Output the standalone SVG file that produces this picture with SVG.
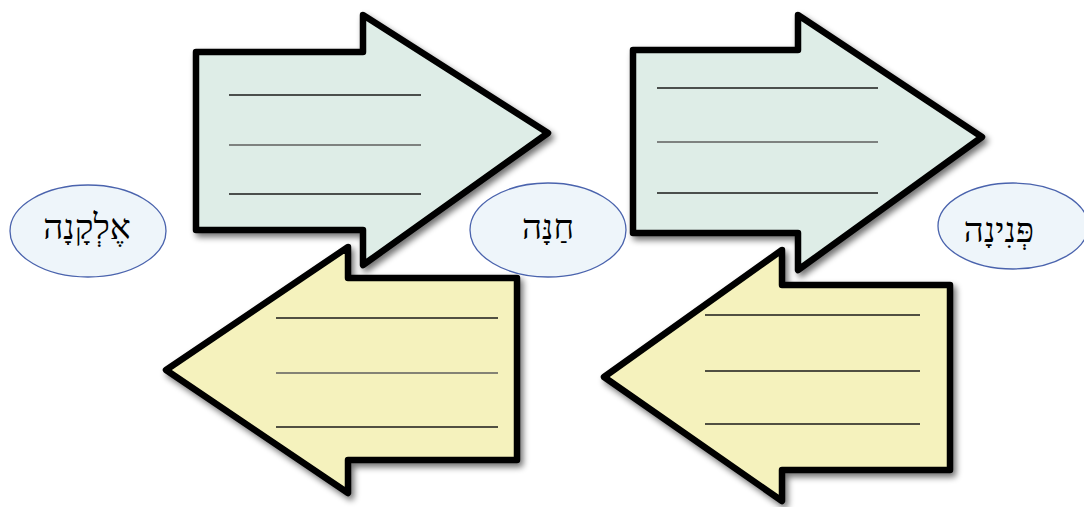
<svg xmlns="http://www.w3.org/2000/svg" width="1084" height="507" viewBox="0 0 1084 507">
<defs>
<filter id="sh" x="-10%" y="-10%" width="125%" height="125%">
<feGaussianBlur in="SourceAlpha" stdDeviation="3"/>
<feOffset dx="3" dy="4" result="b"/>
<feComponentTransfer><feFuncA type="linear" slope="0.55"/></feComponentTransfer>
<feMerge><feMergeNode/><feMergeNode in="SourceGraphic"/></feMerge>
</filter>
</defs>
<style>
.arr{stroke:#000;stroke-width:6.5;stroke-linejoin:round;filter:url(#sh)}
.g{fill:#deede7}
.y{fill:#f5f2bd}
.ln{stroke:#1a1a1a;stroke-width:1.3}
.lm{stroke:#5e5e5e;stroke-width:1.6}
.ell{fill:#eef5fa;stroke:#4a63ad;stroke-width:1.3}
.lbl{font-family:"Liberation Serif","DejaVu Serif",serif;font-size:35px;fill:#000;text-anchor:middle}
</style>
<rect width="1084" height="507" fill="#fff"/>
<g id="arrow-bottom-left">
<path class="arr y" d="M517,278 L348,278 L348,247 L166,370 L348,493 L348,460 L517,460 Z"/>
<line class="ln" x1="276" y1="318" x2="498" y2="318"/>
<line class="lm" x1="276" y1="373" x2="498" y2="373"/>
<line class="ln" x1="276" y1="427" x2="498" y2="427"/>
</g>
<g id="arrow-bottom-right">
<path class="arr y" d="M950,285 L782,285 L782,250 L604,377 L782,501 L782,470 L950,470 Z"/>
<line class="ln" x1="705" y1="315" x2="920" y2="315"/>
<line class="ln" x1="705" y1="371" x2="920" y2="371"/>
<line class="ln" x1="705" y1="424" x2="920" y2="424"/>
</g>
<g id="arrow-top-left">
<path class="arr g" d="M196,52 L363,52 L363,15 L548,133 L363,265 L363,230 L196,230 Z"/>
<line class="ln" x1="229" y1="95" x2="421" y2="95"/>
<line class="lm" x1="229" y1="145" x2="421" y2="145"/>
<line class="ln" x1="229" y1="194" x2="421" y2="194"/>
</g>
<g id="arrow-top-right">
<path class="arr g" d="M633,50 L798,50 L798,15 L982,137 L798,270 L798,233 L633,233 Z"/>
<line class="ln" x1="657" y1="88" x2="878" y2="88"/>
<line class="lm" x1="657" y1="142" x2="878" y2="142"/>
<line class="ln" x1="657" y1="193" x2="878" y2="193"/>
</g>
<g id="node-elkana">
<ellipse class="ell" cx="88" cy="231" rx="78" ry="46"/>
<text class="lbl" x="87" y="239">אֶלְקָנָה</text>
</g>
<g id="node-hannah">
<ellipse class="ell" cx="548" cy="230" rx="78" ry="47"/>
<text class="lbl" x="548" y="239">חַנָּה</text>
</g>
<g id="node-peninah">
<ellipse class="ell" cx="1013" cy="226" rx="75" ry="43"/>
<text class="lbl" x="999" y="242">פְּנִינָה</text>
</g>
<g id="connectors"/>
</svg>
